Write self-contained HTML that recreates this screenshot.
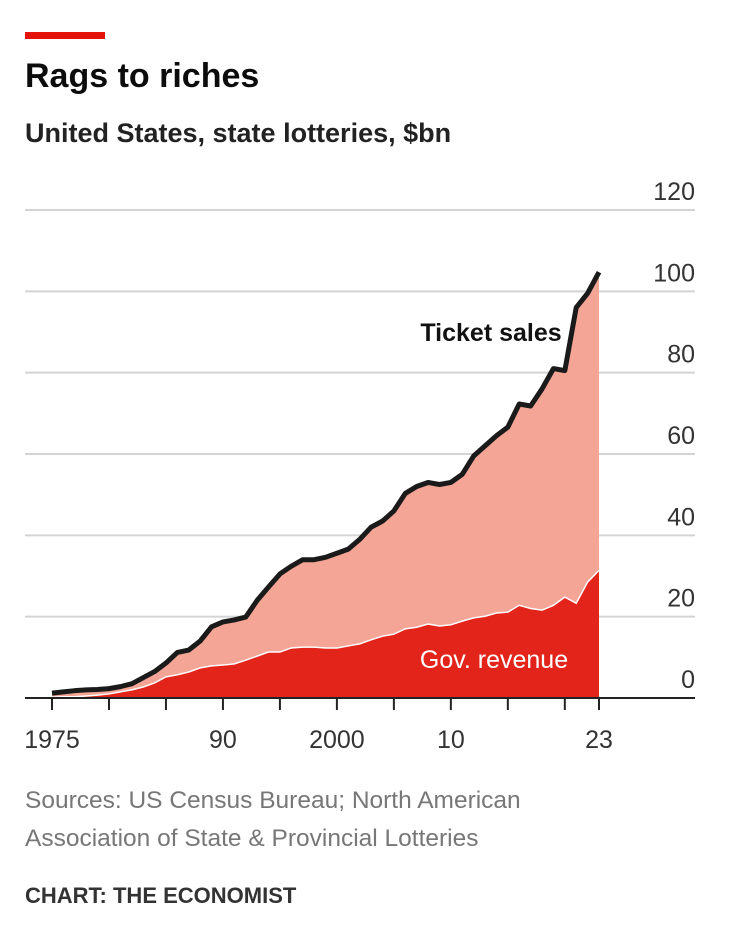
<!DOCTYPE html>
<html><head><meta charset="utf-8"><style>
body{margin:0;background:#fff;width:730px;height:926px;overflow:hidden;font-family:"Liberation Sans",sans-serif}
</style></head><body>
<svg width="730" height="926">
<rect x="25" y="32" width="80" height="7" fill="#e3120b"/>
<text x="25" y="87" font-size="34" font-weight="bold" fill="#0c0c0c">Rags to riches</text>
<text x="25" y="142" font-size="27" font-weight="bold" fill="#222">United States, state lotteries, $bn</text>
<g id="grid"></g>
<g id="areas"></g>
<g id="xaxis"></g>
<text x="491" y="341" font-size="25" font-weight="bold" fill="#111" text-anchor="middle">Ticket sales</text>
<text x="494" y="668" font-size="25" fill="#fff" text-anchor="middle">Gov. revenue</text>
<text x="25" y="808" font-size="24.5" fill="#777">Sources: US Census Bureau; North American</text>
<text x="25" y="846" font-size="24.5" fill="#777">Association of State &amp; Provincial Lotteries</text>
<text x="25" y="903" font-size="22" font-weight="bold" fill="#333">CHART: THE ECONOMIST</text>
</svg>
<script>
const years=[1975,1976,1977,1978,1979,1980,1981,1982,1983,1984,1985,1986,1987,1988,1989,1990,1991,1992,1993,1994,1995,1996,1997,1998,1999,2000,2001,2002,2003,2004,2005,2006,2007,2008,2009,2010,2011,2012,2013,2014,2015,2016,2017,2018,2019,2020,2021,2022,2023];
const ticketSales=[1.2,1.5,1.8,2,2.1,2.3,2.8,3.5,5,6.5,8.6,11.2,11.8,14,17.5,18.7,19.2,19.9,24,27.3,30.5,32.4,34,34,34.6,35.6,36.6,39,42,43.5,46,50.3,52,53,52.5,53,55,59.5,62,64.5,66.6,72.3,71.8,76,81,80.5,96,99.5,104.7];
const govRevenue=[0.2,0.3,0.3,0.5,0.7,1,1.5,2,2.7,3.7,5.2,5.7,6.4,7.4,7.9,8.1,8.4,9.3,10.3,11.3,11.3,12.3,12.5,12.5,12.3,12.3,12.8,13.3,14.3,15.2,15.7,17,17.4,18.2,17.7,18,18.9,19.7,20.1,20.9,21.1,22.8,22,21.6,22.8,24.8,23.3,28.5,31.4];
const yTicks=[0,20,40,60,80,100,120];
const xTickYears=[1975,1980,1985,1990,1995,2000,2005,2010,2015,2020,2023];
const xLabelYears=[1975,1990,2000,2010,2023];
const xLabelText=["1975","90","2000","10","23"];
const NS="http://www.w3.org/2000/svg";
const X=y=>52+(y-1975)*(547/48);
const Y=v=>698-v*(488/120);
function mk(tag,attrs,parent){const e=document.createElementNS(NS,tag);for(const k in attrs)e.setAttribute(k,attrs[k]);document.getElementById(parent).appendChild(e);return e;}
yTicks.forEach(t=>{
  if(t>0){const l=mk('line',{x1:25,x2:695,y1:Y(t),y2:Y(t),stroke:'#d4d4d4','stroke-width':2},'grid');
  
  }
  const tx=mk('text',{x:695,y:Y(t)-10,'font-size':25,fill:'#333','text-anchor':'end'},'grid');
  tx.textContent=t;
  
  
});
function areaPath(vals){let d='M'+X(years[0])+','+Y(0);years.forEach((y,i)=>d+='L'+X(y)+','+Y(vals[i]));return d+'L'+X(years[years.length-1])+','+Y(0)+'Z';}
function linePath(vals){return years.map((y,i)=>(i?'L':'M')+X(y)+','+Y(vals[i])).join('');}
const a1=mk('path',{d:areaPath(ticketSales),fill:'#f4a596'},'areas');


const a2=mk('path',{d:areaPath(govRevenue),fill:'#e3241b'},'areas');


const l2=mk('path',{d:linePath(govRevenue),fill:'none',stroke:'#fff','stroke-width':1.5},'areas');


const l1=mk('path',{d:linePath(ticketSales),fill:'none',stroke:'#1a1a1a','stroke-width':5,'stroke-linejoin':'round'},'areas');


const ax=mk('line',{x1:25,x2:695,y1:698,y2:698,stroke:'#222','stroke-width':2},'xaxis');


xTickYears.forEach(y=>{const t=mk('line',{x1:X(y),x2:X(y),y1:698,y2:710,stroke:'#222','stroke-width':2},'xaxis');

});
xLabelYears.forEach((y,i)=>{const t=mk('text',{x:X(y),y:748,'font-size':25,fill:'#333','text-anchor':'middle'},'xaxis');
t.textContent=xLabelText[i];

});
</script>
</body></html>
